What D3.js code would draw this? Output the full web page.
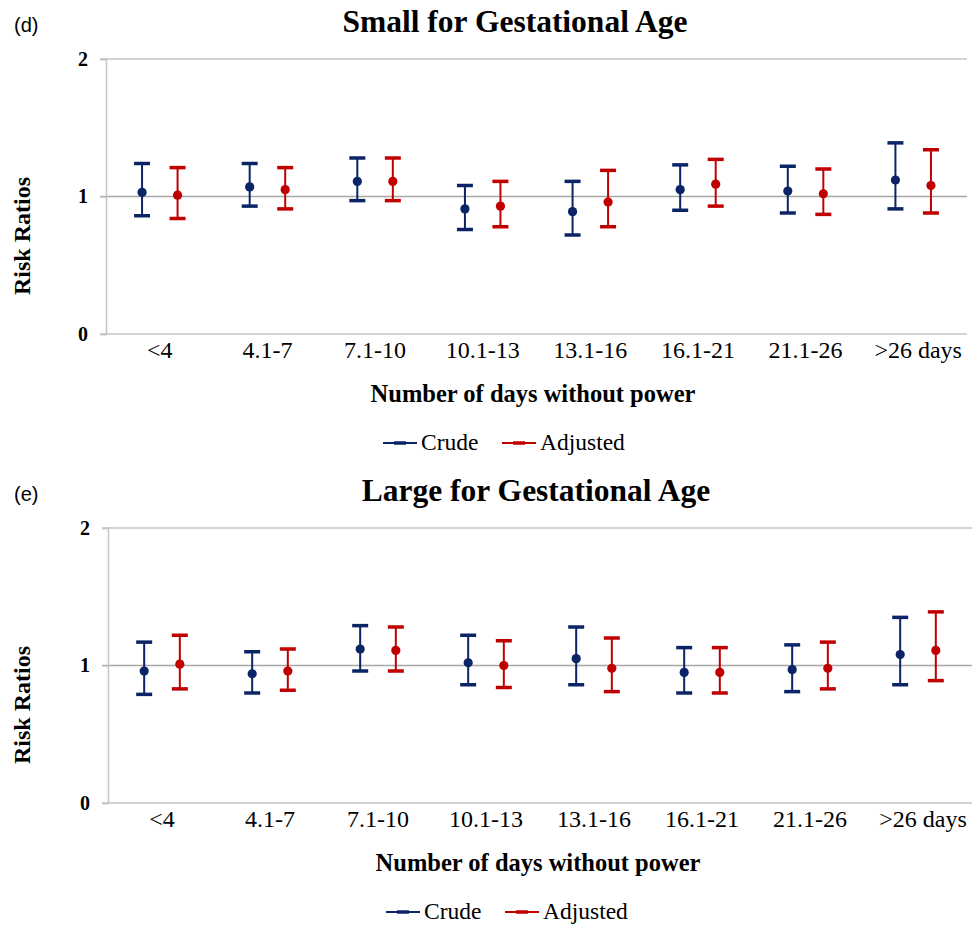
<!DOCTYPE html>
<html>
<head>
<meta charset="utf-8">
<script src="https://cdn.jsdelivr.net/npm/d3@7"></script>
<style>
  body { margin: 0; background: #fff; }
  svg { display: block; }
</style>
</head>
<body>
<div id="wrapper"></div>
<script>
// categories and series
const categories = ["<4", "4.1-7", "7.1-10", "10.1-13", "13.1-16", "16.1-21", "21.1-26", ">26 days"];
const seriesNames = ["Crude", "Adjusted"];
const yTicks = [0, 1, 2];

// (d) small for gestational age
const sgaCrudeRR = [1.03, 1.07, 1.11, 0.91, 0.89, 1.05, 1.04, 1.12];
const sgaCrudeLo = [0.86, 0.93, 0.97, 0.76, 0.72, 0.90, 0.88, 0.91];
const sgaCrudeHi = [1.24, 1.24, 1.28, 1.08, 1.11, 1.23, 1.22, 1.39];
const sgaAdjRR = [1.01, 1.05, 1.11, 0.93, 0.96, 1.09, 1.02, 1.08];
const sgaAdjLo = [0.84, 0.91, 0.97, 0.78, 0.78, 0.93, 0.87, 0.88];
const sgaAdjHi = [1.21, 1.21, 1.28, 1.11, 1.19, 1.27, 1.20, 1.34];

// (e) large for gestational age
const lgaCrudeRR = [0.96, 0.94, 1.12, 1.02, 1.05, 0.95, 0.97, 1.08];
const lgaCrudeLo = [0.79, 0.80, 0.96, 0.86, 0.86, 0.80, 0.81, 0.86];
const lgaCrudeHi = [1.17, 1.10, 1.29, 1.22, 1.28, 1.13, 1.15, 1.35];
const lgaAdjRR = [1.01, 0.96, 1.11, 1.00, 0.98, 0.95, 0.98, 1.11];
const lgaAdjLo = [0.83, 0.82, 0.96, 0.84, 0.81, 0.80, 0.83, 0.89];
const lgaAdjHi = [1.22, 1.12, 1.28, 1.18, 1.20, 1.13, 1.17, 1.39];

const colors = { Crude: "#0b2466", Adjusted: "#c00000" };
const serif = "'Liberation Serif', 'Times New Roman', serif";
const sans = "'Liberation Sans', Arial, sans-serif";

const svg = d3.select("#wrapper")
  .append("svg")
  .attr("width", 972)
  .attr("height", 925);

const buildRows = (rr, lo, hi) => categories.map((c, i) => ({ cat: c, rr: rr[i], lo: lo[i], hi: hi[i] }));

const drawPanel = (opts) => {
  const g = svg.append("g").attr("transform", `translate(0, ${opts.offset})`);

  const xScale = d3.scaleBand()
    .domain(categories)
    .range([opts.left, opts.right]);

  const subScale = d3.scalePoint()
    .domain(seriesNames)
    .range([xScale.bandwidth() * 0.335, xScale.bandwidth() * 0.665]);

  const yScale = d3.scaleLinear()
    .domain([0, 2])
    .range([334, 59]);

  // gridlines
  g.append("g")
    .selectAll("line")
    .data(yTicks.filter((t) => t > 0))
    .join("line")
    .attr("x1", opts.left - 6)
    .attr("x2", opts.right)
    .attr("y1", (d) => yScale(d))
    .attr("y2", (d) => yScale(d))
    .attr("stroke", (d) => (d === 1 ? "#a8a8a8" : "#c4c4c4"))
    .attr("stroke-width", 1.5);

  // y axis
  const yAxis = g.append("g")
    .attr("transform", `translate(${opts.left}, 0)`)
    .call(d3.axisLeft(yScale).tickValues(yTicks).tickSize(6).tickPadding(12).tickFormat(d3.format("d")));
  yAxis.select(".domain").attr("stroke", "#c4c4c4").attr("stroke-width", 1.5);
  yAxis.selectAll(".tick line").attr("stroke", "#c4c4c4").attr("stroke-width", 1.5);
  yAxis.selectAll(".tick text")
    .attr("font-family", serif)
    .attr("font-weight", "bold")
    .attr("font-size", 20)
    .attr("fill", "#000");

  // x axis
  const xAxis = g.append("g")
    .attr("transform", `translate(0, ${yScale(0)})`)
    .call(d3.axisBottom(xScale).tickSize(0).tickPadding(0));
  xAxis.select(".domain")
    .attr("d", `M${opts.left - 6},0H${opts.right}`)
    .attr("stroke", "#c4c4c4")
    .attr("stroke-width", 1.5);
  xAxis.selectAll(".tick text")
    .attr("font-family", serif)
    .attr("font-size", 24)
    .attr("fill", "#000")
    .attr("dy", 0)
    .attr("y", 24)
    .attr("dx", (d) => (d === ">26 days" ? 5 : 0));

  // error bars
  opts.series.forEach((s) => {
    const sg = g.append("g");
    const cx = (d) => xScale(d.cat) + subScale(s.name);
    sg.selectAll(".whisker")
      .data(s.rows)
      .join("line")
      .attr("x1", cx)
      .attr("x2", cx)
      .attr("y1", (d) => yScale(d.lo))
      .attr("y2", (d) => yScale(d.hi))
      .attr("stroke", colors[s.name])
      .attr("stroke-width", 2);
    ["lo", "hi"].forEach((k) => {
      sg.selectAll(".cap-" + k)
        .data(s.rows)
        .join("line")
        .attr("x1", (d) => cx(d) - 8)
        .attr("x2", (d) => cx(d) + 8)
        .attr("y1", (d) => yScale(d[k]))
        .attr("y2", (d) => yScale(d[k]))
        .attr("stroke", colors[s.name])
        .attr("stroke-width", 3.5);
    });
    sg.selectAll("circle")
      .data(s.rows)
      .join("circle")
      .attr("cx", cx)
      .attr("cy", (d) => yScale(d.rr))
      .attr("r", 4.6)
      .attr("fill", colors[s.name]);
  });

  // panel letter
  g.append("text")
    .attr("x", 14)
    .attr("y", 32)
    .attr("font-family", sans)
    .attr("font-size", 20)
    .text(opts.letter);

  // title
  g.append("text")
    .attr("x", opts.titleX)
    .attr("y", 32)
    .attr("text-anchor", "middle")
    .attr("font-family", serif)
    .attr("font-weight", "bold")
    .attr("font-size", 31.5)
    .text(opts.title);

  // y label
  g.append("text")
    .attr("transform", `translate(30, 236) rotate(-90)`)
    .attr("text-anchor", "middle")
    .attr("font-family", serif)
    .attr("font-weight", "bold")
    .attr("font-size", 24)
    .text("Risk Ratios");

  // x label
  g.append("text")
    .attr("x", opts.xLabelX)
    .attr("y", 402)
    .attr("text-anchor", "middle")
    .attr("font-family", serif)
    .attr("font-weight", "bold")
    .attr("font-size", 24.5)
    .text("Number of days without power");

  // legend
  const legend = g.append("g").attr("transform", `translate(${opts.legendX}, 443)`);
  const items = legend.selectAll("g")
    .data(seriesNames)
    .join("g")
    .attr("transform", (d, i) => `translate(${i * 119}, 0)`);
  items.append("line")
    .attr("x1", 0).attr("x2", 34)
    .attr("y1", 0).attr("y2", 0)
    .attr("stroke", (d) => colors[d])
    .attr("stroke-width", 2);
  items.append("line")
    .attr("x1", 11).attr("x2", 23)
    .attr("y1", 0).attr("y2", 0)
    .attr("stroke", (d) => colors[d])
    .attr("stroke-width", 3.5);
  items.append("text")
    .attr("x", 38)
    .attr("y", 7)
    .attr("font-family", serif)
    .attr("font-size", 23.5)
    .text((d) => d);
};

drawPanel({
  offset: 0,
  left: 106,
  right: 967,
  letter: "(d)",
  title: "Small for Gestational Age",
  titleX: 515,
  xLabelX: 533,
  legendX: 383,
  series: [
    { name: "Crude", rows: buildRows(sgaCrudeRR, sgaCrudeLo, sgaCrudeHi) },
    { name: "Adjusted", rows: buildRows(sgaAdjRR, sgaAdjLo, sgaAdjHi) }
  ]
});

drawPanel({
  offset: 469,
  left: 108,
  right: 972,
  letter: "(e)",
  title: "Large for Gestational Age",
  titleX: 536,
  xLabelX: 538,
  legendX: 386,
  series: [
    { name: "Crude", rows: buildRows(lgaCrudeRR, lgaCrudeLo, lgaCrudeHi) },
    { name: "Adjusted", rows: buildRows(lgaAdjRR, lgaAdjLo, lgaAdjHi) }
  ]
});
</script>
</body>
</html>
